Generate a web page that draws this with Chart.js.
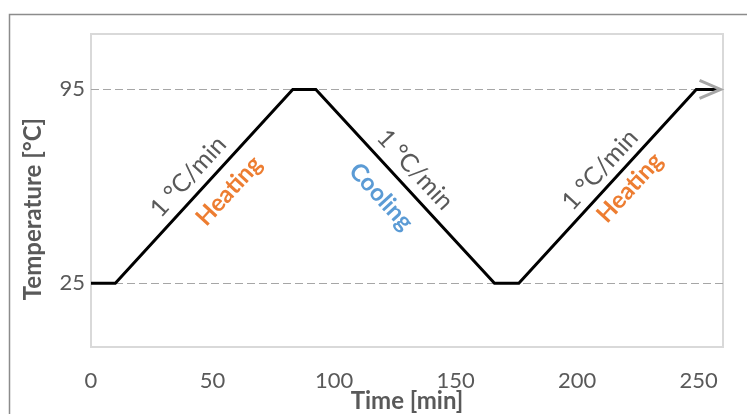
<!DOCTYPE html>
<html>
<head>
<meta charset="utf-8">
<script src="https://cdn.jsdelivr.net/npm/chart.js@4/dist/chart.umd.min.js"></script>
<style>
  html, body { margin: 0; padding: 0; background: #fff; }
</style>
</head>
<body>
<canvas id="tempChart" width="747" height="414"></canvas>
<script>
// temperature program: hold, ramp up, hold, ramp down, hold, ramp up
const timeMin = [0, 10, 83, 92.5, 166, 176, 249, 259];
const tempC = [25, 25, 95, 95, 25, 25, 95, 95];
const xTicks = [0, 50, 100, 150, 200, 250];
const yTicks = [25, 95];

const GRAY = "#595959";
const FONT = "Lato";

// text along the ramps (seg = index of the segment start point, for the angle)
const notes = [
  { text: "1 °C/min", x: 40, y: 63.5, seg: 1, color: GRAY, bold: false },
  { text: "Heating", x: 56.8, y: 58.4, seg: 1, color: "#ED7D31", bold: true },
  { text: "1 °C/min", x: 133.3, y: 66, seg: 3, color: GRAY, bold: false },
  { text: "Cooling", x: 119.3, y: 56.3, seg: 3, color: "#5B9BD5", bold: true },
  { text: "1 °C/min", x: 209.4, y: 66, seg: 5, color: GRAY, bold: false },
  { text: "Heating", x: 221.7, y: 59.5, seg: 5, color: "#ED7D31", bold: true },
];

const decor = {
  id: "decor",
  beforeDraw(chart) {
    const ctx = chart.ctx;
    const a = chart.chartArea;
    ctx.save();
    ctx.fillStyle = "#fff";
    ctx.fillRect(0, 0, chart.width, chart.height);
    // outer frame
    ctx.strokeStyle = "#8c8c8c";
    ctx.lineWidth = 1.5;
    ctx.strokeRect(9.5, 14.5, chart.width + 20, chart.height + 20);
    // plot frame
    ctx.strokeStyle = "#d9d9d9";
    ctx.lineWidth = 2;
    ctx.strokeRect(a.left, a.top, a.right - a.left, a.bottom - a.top);
    // y axis title, sits a bit below the axis middle like the original
    ctx.translate(33, 209);
    ctx.rotate(-Math.PI / 2);
    ctx.font = "bold 24px " + FONT;
    ctx.fillStyle = GRAY;
    ctx.textAlign = "center";
    ctx.textBaseline = "middle";
    ctx.fillText("Temperature [°C]", 0, 0);
    ctx.restore();
  },
  afterDatasetsDraw(chart) {
    const ctx = chart.ctx;
    const xs = chart.scales.x, ys = chart.scales.y;
    const n = timeMin.length;
    // arrow head at the end of the program
    const px = xs.getPixelForValue(timeMin[n - 1]);
    const py = ys.getPixelForValue(tempC[n - 1]);
    ctx.save();
    ctx.strokeStyle = "#a6a6a6";
    ctx.lineWidth = 3;
    ctx.beginPath();
    ctx.moveTo(px - 21, py - 9);
    ctx.lineTo(px, py);
    ctx.lineTo(px - 21, py + 9);
    ctx.stroke();
    ctx.restore();

    notes.forEach((nt) => {
      const x1 = xs.getPixelForValue(timeMin[nt.seg]);
      const y1 = ys.getPixelForValue(tempC[nt.seg]);
      const x2 = xs.getPixelForValue(timeMin[nt.seg + 1]);
      const y2 = ys.getPixelForValue(tempC[nt.seg + 1]);
      const ang = Math.atan2(y2 - y1, x2 - x1);
      ctx.save();
      ctx.translate(xs.getPixelForValue(nt.x), ys.getPixelForValue(nt.y));
      ctx.rotate(ang);
      ctx.font = (nt.bold ? "bold 24px " : "25px ") + FONT;
      ctx.fillStyle = nt.color;
      ctx.textAlign = "center";
      ctx.textBaseline = "middle";
      ctx.fillText(nt.text, 0, 0);
      ctx.restore();
    });
  },
};

new Chart(document.getElementById("tempChart"), {
  type: "line",
  data: {
    datasets: [
      {
        data: timeMin.map((t, i) => ({ x: t, y: tempC[i] })),
        borderColor: "#000",
        borderWidth: 3,
        pointRadius: 0,
        tension: 0,
      },
    ],
  },
  options: {
    responsive: false,
    animation: false,
    devicePixelRatio: 1,
    layout: { padding: { left: 0, top: 34, right: 24, bottom: 0 } },
    plugins: { legend: { display: false }, tooltip: { enabled: false } },
    scales: {
      x: {
        type: "linear",
        min: 0,
        max: 260,
        afterBuildTicks: (s) => { s.ticks = xTicks.map((v) => ({ value: v })); },
        afterFit: (s) => { s.height = 67; },
        grid: { display: false },
        border: { display: false },
        ticks: { color: GRAY, font: { family: FONT, size: 22 }, padding: 13, maxRotation: 0 },
        title: {
          display: true,
          text: "Time [min]",
          color: GRAY,
          font: { family: FONT, size: 24, weight: "bold" },
          padding: { top: 0, bottom: -2 },
        },
      },
      y: {
        min: 2,
        max: 115,
        afterBuildTicks: (s) => { s.ticks = yTicks.map((v) => ({ value: v })); },
        afterFit: (s) => { s.width = 91; },
        grid: { color: "#a6a6a6", lineWidth: 1, drawTicks: false },
        border: { display: false, dash: [8, 4] },
        ticks: { color: GRAY, font: { family: FONT, size: 22 }, padding: 6 },
      },
    },
  },
  plugins: [decor],
});
</script>
</body>
</html>
